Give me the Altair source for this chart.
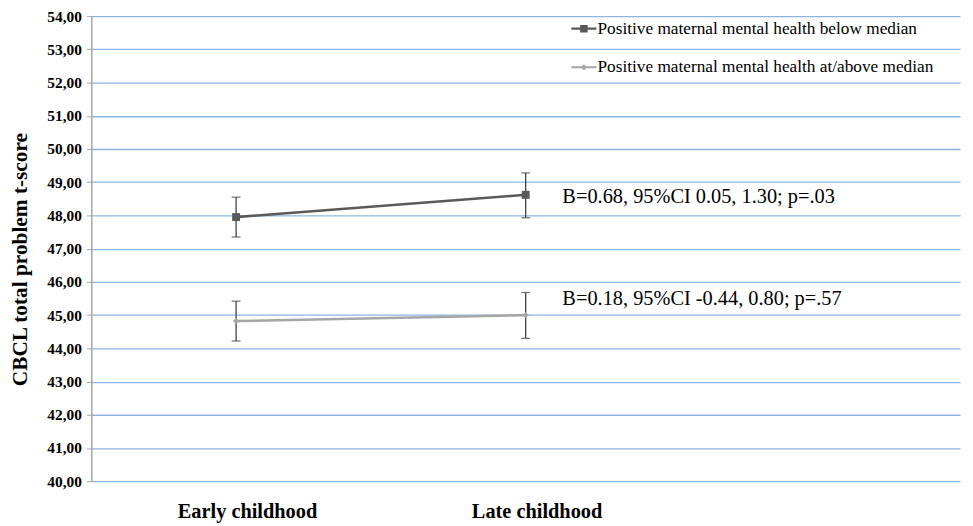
import altair as alt
import pandas as pd

periods = ["Early childhood", "Late childhood"]
x_domain = ["Early childhood", "Late childhood", ""]
groups = ["Positive maternal mental health below median",
          "Positive maternal mental health at/above median"]
below_mean = [47.95, 48.62]
below_lo = [47.35, 47.93]
below_hi = [48.55, 49.28]
above_mean = [44.82, 45.00]
above_lo = [44.22, 44.30]
above_hi = [45.42, 45.68]
annotations = ["B=0.68, 95%CI 0.05, 1.30; p=.03",
               "B=0.18, 95%CI -0.44, 0.80; p=.57"]

rows = []
for i, p in enumerate(periods):
    rows.append(dict(period=p, group=groups[0], mean=below_mean[i], lo=below_lo[i], hi=below_hi[i]))
    rows.append(dict(period=p, group=groups[1], mean=above_mean[i], lo=above_lo[i], hi=above_hi[i]))
df = pd.DataFrame(rows)

ann = pd.DataFrame({"period": [periods[1], periods[1]], "group": groups,
                    "mean": [below_mean[1], above_mean[1]], "label": annotations})

FONT = "Liberation Serif"
colors = ["#595959", "#a6a6a6"]

x = alt.X("period:N", scale=alt.Scale(type="point", domain=x_domain, padding=0.5),
          axis=alt.Axis(title=None, domain=False, ticks=False, grid=False, labelAngle=0,
                        labelFont=FONT, labelFontSize=20.5, labelFontWeight="bold",
                        labelColor="#000000", labelPadding=21, labelOffset=11))
y_scale = alt.Scale(domain=[40, 54], nice=False, zero=False)
y_axis = alt.Axis(title="CBCL total problem t-score", values=list(range(40, 55)),
                  labelExpr="replace(format(datum.value, '.2f'), '.', ',')",
                  labelFont=FONT, labelFontSize=15.5, labelFontWeight="bold",
                  labelColor="#000000", labelPadding=5, labelOverlap=False,
                  titleFont=FONT, titleFontSize=21.5, titleFontWeight="bold",
                  titleColor="#000000", titleX=-60, titleY=245,
                  grid=True, gridColor="#8db4e2", gridWidth=1.3,
                  domainColor="#a6a6a6", domainWidth=1.5,
                  tickColor="#a6a6a6", tickSize=5)


def yq(field):
    return alt.Y(field, scale=y_scale, axis=y_axis)


def color_scale():
    return alt.Scale(domain=groups, range=colors)


shape_marks = alt.Scale(domain=groups, range=["square", "diamond"])
shape_legend = alt.Scale(domain=groups, range=[
    "M-2,-0.18H2V0.18H-2Z M-0.6,-0.6H0.6V0.6H-0.6Z",
    "M-2,-0.16H2V0.16H-2Z M0,-0.5L0.5,0L0,0.5L-0.5,0Z",
])
leg = alt.Legend(title=None, orient="none", legendX=488, legendY=4)

base = alt.Chart(df)

err = base.mark_rule(color="#404040", strokeWidth=1.3).encode(
    x=x, y=yq("lo:Q"), y2="hi:Q")
cap_lo = base.mark_tick(color="#404040", size=9, thickness=1.3).encode(
    x=x, y=yq("lo:Q"))
cap_hi = base.mark_tick(color="#404040", size=9, thickness=1.3).encode(
    x=x, y=yq("hi:Q"))

lines = base.mark_line(strokeWidth=2.6).encode(
    x=x, y=yq("mean:Q"), color=alt.Color("group:N", scale=color_scale(), legend=None))
points = base.mark_point(filled=True, opacity=1).encode(
    x=x, y=yq("mean:Q"),
    color=alt.Color("group:N", scale=color_scale(), legend=None),
    shape=alt.Shape("group:N", scale=shape_marks, legend=None),
    size=alt.Size("group:N", scale=alt.Scale(domain=groups, range=[64, 40]), legend=None))

legend_layer = base.transform_filter("false").mark_point(filled=True, opacity=1, size=160).encode(
    x=x, y=yq("mean:Q"),
    color=alt.Color("group:N", scale=color_scale(), legend=leg),
    shape=alt.Shape("group:N", scale=shape_legend, legend=leg))

ann_base = alt.Chart(ann)
txt1 = ann_base.transform_filter(alt.datum.group == groups[0]).mark_text(
    align="left", baseline="middle", dx=37, dy=2, font=FONT, fontSize=20.5, color="#000000"
).encode(x=x, y=yq("mean:Q"), text="label:N")
txt2 = ann_base.transform_filter(alt.datum.group == groups[1]).mark_text(
    align="left", baseline="middle", dx=37, dy=-16, font=FONT, fontSize=20.5, color="#000000"
).encode(x=x, y=yq("mean:Q"), text="label:N")

chart = alt.layer(lines, err, cap_lo, cap_hi, points, legend_layer, txt1, txt2).resolve_scale(
    shape="independent", color="independent", size="independent"
).properties(
    width=876, height=469, autosize=alt.AutoSizeParams(type="none"),
    padding={"left": 84, "top": 6, "right": 5, "bottom": 43},
).configure(background="#ffffff").configure_view(stroke=None).configure_legend(
    labelFont=FONT, labelFontSize=17.4, labelColor="#000000", labelLimit=450,
    rowPadding=20, symbolSize=160, symbolStrokeWidth=0, labelOffset=5
)

chart.save("out.html", embed_options={"renderer": "svg", "actions": False})
